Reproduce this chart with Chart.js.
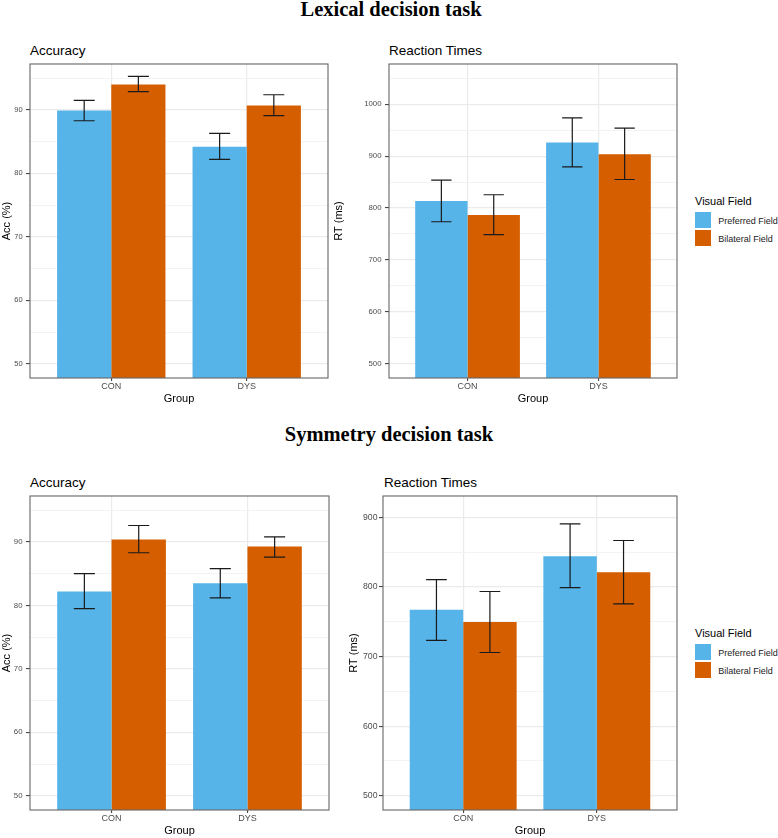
<!DOCTYPE html>
<html>
<head>
<meta charset="utf-8">
<script src="https://cdn.jsdelivr.net/npm/chart.js@4.4.1/dist/chart.umd.min.js"></script>
<style>
html,body{margin:0;padding:0;background:#fff;}
body{width:778px;height:838px;position:relative;overflow:hidden;font-family:"Liberation Sans",Arial,sans-serif;}
canvas{position:absolute;}
.main{position:absolute;left:0;width:778px;text-align:center;font-family:"Liberation Serif","Times New Roman",serif;font-weight:bold;font-size:20.5px;line-height:1;color:#000;white-space:nowrap;}
.ptitle{position:absolute;font-size:13.5px;line-height:1;color:#000;white-space:nowrap;}
.lgt{position:absolute;font-size:11px;line-height:1;color:#000;white-space:nowrap;}
.lgl{position:absolute;font-size:9px;line-height:1;color:#1a1a1a;white-space:nowrap;}
.key{position:absolute;width:16px;height:16px;box-sizing:border-box;}
</style>
</head>
<body>
<div class="main" style="top:-1.4px;left:2px;">Lexical decision task</div>
<div class="main" style="top:423.8px;left:0px;">Symmetry decision task</div>
<div class="ptitle" style="left:30px;top:43.6px;">Accuracy</div>
<div class="ptitle" style="left:389px;top:43.6px;">Reaction Times</div>
<div class="ptitle" style="left:30px;top:475.6px;">Accuracy</div>
<div class="ptitle" style="left:384px;top:475.6px;">Reaction Times</div>

<canvas id="c1" width="332" height="352" style="left:0px;top:54px;width:332px;height:352px;"></canvas>
<canvas id="c2" width="349" height="352" style="left:332px;top:54px;width:349px;height:352px;"></canvas>
<canvas id="c3" width="333" height="352" style="left:0px;top:486px;width:333px;height:352px;"></canvas>
<canvas id="c4" width="334" height="352" style="left:347px;top:486px;width:334px;height:352px;"></canvas>

<script>
// ---------- data ----------
const categories = ['CON', 'DYS'];
const seriesNames = ['Preferred Field', 'Bilateral Field'];
const seriesColors = ['#56B4E9', '#D55E00'];
const legendTitle = 'Visual Field';

// Lexical decision task - Accuracy
const lexAccPref   = [89.9, 84.2];
const lexAccPrefLo = [88.3, 82.2];
const lexAccPrefHi = [91.5, 86.3];
const lexAccBil    = [94.0, 90.7];
const lexAccBilLo  = [92.9, 89.1];
const lexAccBilHi  = [95.3, 92.4];

// Lexical decision task - Reaction Times
const lexRtPref   = [813.5, 926.2];
const lexRtPrefLo = [773.6, 879.4];
const lexRtPrefHi = [853.8, 973.7];
const lexRtBil    = [786.5, 903.8];
const lexRtBilLo  = [748.7, 855.0];
const lexRtBilHi  = [825.6, 953.8];

// Symmetry decision task - Accuracy
const symAccPref   = [82.2, 83.5];
const symAccPrefLo = [79.5, 81.2];
const symAccPrefHi = [85.0, 85.8];
const symAccBil    = [90.4, 89.3];
const symAccBilLo  = [88.3, 87.6];
const symAccBilHi  = [92.6, 90.8];

// Symmetry decision task - Reaction Times
const symRtPref   = [767.0, 844.0];
const symRtPrefLo = [723.0, 799.0];
const symRtPrefHi = [810.5, 890.4];
const symRtBil    = [749.4, 821.0];
const symRtBilLo  = [705.7, 775.6];
const symRtBilHi  = [793.3, 866.6];

// tick labels (major) and minor grid positions
const accTicks = [50, 60, 70, 80, 90];
const accMinor = [55, 65, 75, 85, 95];
const lexRtTicks = [500, 600, 700, 800, 900, 1000];
const lexRtMinor = [550, 650, 750, 850, 950, 1050];
const symRtTicks = [500, 600, 700, 800, 900];
const symRtMinor = [550, 650, 750, 850];

// ---------- drawing ----------
Chart.defaults.font.family = '"Liberation Sans", Arial, sans-serif';

const CAP = 0.155;
const errorBarPlugin = {
  id: 'errbars',
  afterDatasetsDraw(chart) {
    const {ctx, scales: {x, y}} = chart;
    ctx.save();
    ctx.strokeStyle = '#1a1a1a';
    ctx.lineWidth = 1.2;
    chart.data.datasets.forEach((ds, di) => {
      const meta = chart.getDatasetMeta(di);
      meta.data.forEach((bar, i) => {
        const cx = bar.x;
        const half = (x.getPixelForValue(1 + CAP / 2) - x.getPixelForValue(1 - CAP / 2)) / 2;
        const pl = y.getPixelForValue(ds.errLo[i]);
        const ph = y.getPixelForValue(ds.errHi[i]);
        ctx.beginPath();
        ctx.moveTo(cx, pl); ctx.lineTo(cx, ph);
        ctx.moveTo(cx - half, ph); ctx.lineTo(cx + half, ph);
        ctx.moveTo(cx - half, pl); ctx.lineTo(cx + half, pl);
        ctx.stroke();
      });
    });
    ctx.restore();
  },
  afterDraw(chart) {
    const a = chart.chartArea;
    const ctx = chart.ctx;
    ctx.save();
    ctx.strokeStyle = '#666666';
    ctx.lineWidth = 1.1;
    ctx.strokeRect(a.left, a.top, a.right - a.left, a.bottom - a.top);
    ctx.restore();
  }
};

function makePanel(id, p) {
  const ds = (vals, lo, hi, k) => ({
    label: seriesNames[k],
    data: vals.map((v, i) => ({x: i + 1, y: v})),
    errLo: lo, errHi: hi,
    backgroundColor: seriesColors[k],
    borderWidth: 0,
    categoryPercentage: 0.8,
    barPercentage: 1.0
  });
  const isMajor = v => p.ticks.includes(Math.round(v * 1000) / 1000);
  const allY = p.ticks.concat(p.minor).sort((a, b) => a - b);
  return new Chart(document.getElementById(id), {
    type: 'bar',
    data: {
      datasets: [ds(p.pref, p.prefLo, p.prefHi, 0), ds(p.bil, p.bilLo, p.bilHi, 1)]
    },
    options: {
      responsive: false, animation: false, maintainAspectRatio: false,
      layout: {padding: {top: 10, right: 4, left: 0, bottom: 0}},
      plugins: {legend: {display: false}, tooltip: {enabled: false}, title: {display: false}},
      scales: {
        x: {
          type: 'linear', min: 0.4, max: 2.6, offset: false,
          afterBuildTicks: s => { s.ticks = categories.map((c, i) => ({value: i + 1})); },
          ticks: {
            autoSkip: false, maxRotation: 0,
            callback: v => categories[Math.round(v) - 1] || '',
            color: '#4D4D4D', font: {size: 9}, padding: 0.5
          },
          grid: {offset: false, color: '#EBEBEB', lineWidth: 1.2, drawTicks: true, tickLength: 3, tickColor: '#333333', tickWidth: 1},
          border: {display: false},
          title: {display: true, text: 'Group', color: '#000', font: {size: 11}, padding: 0},
          afterFit: s => { s.height = 28; }
        },
        y: {
          type: 'linear', min: p.min, max: p.max,
          afterBuildTicks: s => { s.ticks = allY.map(v => ({value: v})); },
          ticks: {
            autoSkip: false,
            callback: v => isMajor(v) ? String(v) : '',
            color: '#4D4D4D', font: {size: p.tickFont}, padding: p.tickPad
          },
          grid: {
            color: c => (c.tick && isMajor(c.tick.value)) ? '#EBEBEB' : '#F3F3F3',
            lineWidth: c => (c.tick && isMajor(c.tick.value)) ? 1.2 : 1,
            drawTicks: true, tickLength: 4,
            tickColor: c => (c.tick && isMajor(c.tick.value)) ? '#333333' : 'rgba(0,0,0,0)',
            tickWidth: 1
          },
          border: {display: false},
          title: {display: true, text: p.ytitle, color: '#000', font: {size: 11}, padding: 0},
          afterFit: s => { s.width = p.aw; }
        }
      }
    },
    plugins: [errorBarPlugin]
  });
}

makePanel('c1', {pref: lexAccPref, prefLo: lexAccPrefLo, prefHi: lexAccPrefHi,
  bil: lexAccBil, bilLo: lexAccBilLo, bilHi: lexAccBilHi,
  min: 47.75, max: 97.25, ticks: accTicks, minor: accMinor, ytitle: 'Acc (%)', aw: 30, tickFont: 7.5, tickPad: 3.3});
makePanel('c2', {pref: lexRtPref, prefLo: lexRtPrefLo, prefHi: lexRtPrefHi,
  bil: lexRtBil, bilLo: lexRtBilLo, bilHi: lexRtBilHi,
  min: 472.5, max: 1077.5, ticks: lexRtTicks, minor: lexRtMinor, ytitle: 'RT (ms)', aw: 57, tickFont: 7.8, tickPad: 3.5});
makePanel('c3', {pref: symAccPref, prefLo: symAccPrefLo, prefHi: symAccPrefHi,
  bil: symAccBil, bilLo: symAccBilLo, bilHi: symAccBilHi,
  min: 47.75, max: 97.25, ticks: accTicks, minor: accMinor, ytitle: 'Acc (%)', aw: 30, tickFont: 7.8, tickPad: 3.5});
makePanel('c4', {pref: symRtPref, prefLo: symRtPrefLo, prefHi: symRtPrefHi,
  bil: symRtBil, bilLo: symRtBilLo, bilHi: symRtBilHi,
  min: 479.5, max: 930.5, ticks: symRtTicks, minor: symRtMinor, ytitle: 'RT (ms)', aw: 36, tickFont: 8.7, tickPad: 1.5});

// ---------- legends ----------
function makeLegend(titleTop, keyTop) {
  const t = document.createElement('div');
  t.className = 'lgt';
  t.style.left = '695px';
  t.style.top = titleTop + 'px';
  t.textContent = legendTitle;
  document.body.appendChild(t);
  seriesNames.forEach((name, k) => {
    const key = document.createElement('div');
    key.className = 'key';
    key.style.left = '695.3px';
    key.style.top = (keyTop + k * 18) + 'px';
    key.style.background = seriesColors[k];
    document.body.appendChild(key);
    const lab = document.createElement('div');
    lab.className = 'lgl';
    lab.style.left = '718.3px';
    lab.style.top = (keyTop + k * 18 + 5.4) + 'px';
    lab.textContent = name;
    document.body.appendChild(lab);
  });
}
makeLegend(196.4, 212);
makeLegend(628, 644);
</script>
</body>
</html>
